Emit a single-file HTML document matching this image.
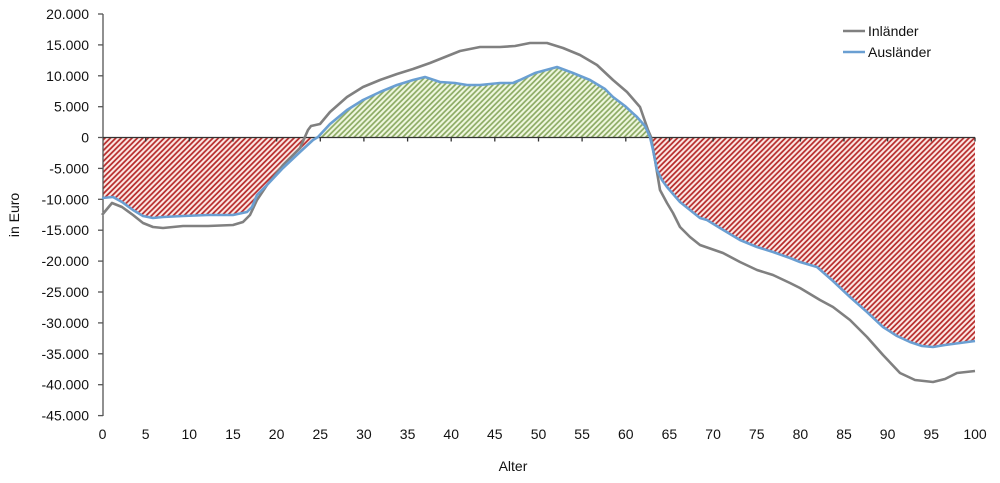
<!DOCTYPE html>
<html><head><meta charset="utf-8"><style>
html,body{margin:0;padding:0;background:#fff;}
svg{display:block;}
text{font-family:"Liberation Sans",Arial,sans-serif;fill:#111;}
</style></head><body>
<svg width="1000" height="483" viewBox="0 0 1000 483" xmlns="http://www.w3.org/2000/svg">
<defs>
<pattern id="red" patternUnits="userSpaceOnUse" width="5.4" height="5.4">
<rect width="5.4" height="5.4" fill="#fdeae6"/>
<path d="M-1,1 l2,-2 M0,5.4 l5.4,-5.4 M4.4,6.4 l2,-2" stroke="#b72c2c" stroke-width="1.8"/>
</pattern>
<pattern id="green" patternUnits="userSpaceOnUse" width="5.4" height="5.4">
<rect width="5.4" height="5.4" fill="#f0f8e0"/>
<path d="M-1,1 l2,-2 M0,5.4 l5.4,-5.4 M4.4,6.4 l2,-2" stroke="#8cab64" stroke-width="1.7"/>
</pattern>
<clipPath id="above"><rect x="0" y="0" width="1000" height="137.5"/></clipPath>
<clipPath id="below"><rect x="0" y="137.5" width="1000" height="400"/></clipPath>
</defs>

<!-- fills -->
<g>
<polygon clip-path="url(#below)" fill="url(#red)" points="103,137.5 103,198 113,197 122,202 133,210 143,216 153,218 163,217 183,216 208,215 233,215 247,212 252,207 257,195 267,185 283,168 300,152 313,140 318,137 330,124 347,110 363,100 380,92 397,85 413,80 425,77 440,82 455,83 467,85 480,85 500,83 513,83 520,80 535,73 557,67 573,73 590,80 605,89 613,97 625,106 637,117 645,126 650,137 653,150 657,170 662,180 667,187 680,202 700,218 707,220 720,228 740,240 757,247 773,252 790,258 800,262 817,267 833,281 850,297 867,312 883,327 897,336 910,342 922,346 933,347 945,345 960,343 975,341 975,137.5"/>
<polygon clip-path="url(#above)" fill="url(#green)" points="103,137.5 103,198 113,197 122,202 133,210 143,216 153,218 163,217 183,216 208,215 233,215 247,212 252,207 257,195 267,185 283,168 300,152 313,140 318,137 330,124 347,110 363,100 380,92 397,85 413,80 425,77 440,82 455,83 467,85 480,85 500,83 513,83 520,80 535,73 557,67 573,73 590,80 605,89 613,97 625,106 637,117 645,126 650,137 653,150 657,170 662,180 667,187 680,202 700,218 707,220 720,228 740,240 757,247 773,252 790,258 800,262 817,267 833,281 850,297 867,312 883,327 897,336 910,342 922,346 933,347 945,345 960,343 975,341 975,137.5"/>
</g>

<!-- y axis -->
<g stroke="#555" stroke-width="1.3">
<line x1="103" y1="14" x2="103" y2="416"/>
<line x1="98" y1="14" x2="103" y2="14"/>
<line x1="98" y1="44.9" x2="103" y2="44.9"/>
<line x1="98" y1="75.8" x2="103" y2="75.8"/>
<line x1="98" y1="106.7" x2="103" y2="106.7"/>
<line x1="98" y1="137.5" x2="103" y2="137.5"/>
<line x1="98" y1="168.4" x2="103" y2="168.4"/>
<line x1="98" y1="199.3" x2="103" y2="199.3"/>
<line x1="98" y1="230.2" x2="103" y2="230.2"/>
<line x1="98" y1="261.1" x2="103" y2="261.1"/>
<line x1="98" y1="292" x2="103" y2="292"/>
<line x1="98" y1="322.9" x2="103" y2="322.9"/>
<line x1="98" y1="353.8" x2="103" y2="353.8"/>
<line x1="98" y1="384.7" x2="103" y2="384.7"/>
<line x1="98" y1="415.6" x2="103" y2="415.6"/>
</g>
<!-- zero line + ticks -->
<g stroke="#333" stroke-width="1.3">
<line x1="103" y1="137.5" x2="975" y2="137.5"/>
<path d="M145.7,137.5v4 M189.3,137.5v4 M233,137.5v4 M276.6,137.5v4 M320.3,137.5v4 M363.9,137.5v4 M407.6,137.5v4 M451.2,137.5v4 M494.8,137.5v4 M538.5,137.5v4 M582.1,137.5v4 M625.8,137.5v4 M669.4,137.5v4 M713.1,137.5v4 M756.7,137.5v4 M800.4,137.5v4 M844,137.5v4 M887.6,137.5v4 M931.3,137.5v4 M975,137.5v4"/>
</g>

<!-- series -->
<polyline fill="none" stroke="#808080" stroke-width="2.6" stroke-linejoin="round" points="102,215 112,203 122,207 133,215 143,223 153,227 163,228 183,226 208,226 233,225 243,222 250,215 257,200 267,185 283,165 300,148 308,130 311,126 320,124 330,112 347,97 363,87 380,80 397,74 413,69 430,63 445,57 460,51 480,47 500,47 515,46 530,43 547,43 563,48 580,55 597,65 613,80 627,92 640,107 648,130 651,137 655,160 660,190 667,203 673,213 680,227 690,237 700,245 723,253 740,262 757,270 773,275 790,283 800,288 820,300 833,307 850,320 867,337 883,355 900,373 915,380 933,382 945,379 957,373 975,371"/>
<polyline fill="none" stroke="#6a9fd2" stroke-width="2.6" stroke-linejoin="round" points="102,198 113,197 122,202 133,210 143,216 153,218 163,217 183,216 208,215 233,215 247,212 252,207 257,195 267,185 283,168 300,152 313,140 318,137 330,124 347,110 363,100 380,92 397,85 413,80 425,77 440,82 455,83 467,85 480,85 500,83 513,83 520,80 535,73 557,67 573,73 590,80 605,89 613,97 625,106 637,117 645,126 650,137 653,150 657,170 662,180 667,187 680,202 700,218 707,220 720,228 740,240 757,247 773,252 790,258 800,262 817,267 833,281 850,297 867,312 883,327 897,336 910,342 922,346 933,347 945,345 960,343 975,341"/>

<!-- y labels -->
<g font-size="14" text-anchor="end">
<text x="89" y="19">20.000</text>
<text x="89" y="49.9">15.000</text>
<text x="89" y="80.8">10.000</text>
<text x="89" y="111.7">5.000</text>
<text x="89" y="142.5">0</text>
<text x="89" y="173.4">-5.000</text>
<text x="89" y="204.3">-10.000</text>
<text x="89" y="235.2">-15.000</text>
<text x="89" y="266.1">-20.000</text>
<text x="89" y="297">-25.000</text>
<text x="89" y="327.9">-30.000</text>
<text x="89" y="358.8">-35.000</text>
<text x="89" y="389.7">-40.000</text>
<text x="89" y="420.6">-45.000</text>
</g>
<!-- x labels -->
<g font-size="14" text-anchor="middle">
<text x="102.5" y="439">0</text>
<text x="145.7" y="439">5</text>
<text x="189.3" y="439">10</text>
<text x="233" y="439">15</text>
<text x="276.6" y="439">20</text>
<text x="320.3" y="439">25</text>
<text x="363.9" y="439">30</text>
<text x="407.6" y="439">35</text>
<text x="451.2" y="439">40</text>
<text x="494.8" y="439">45</text>
<text x="538.5" y="439">50</text>
<text x="582.1" y="439">55</text>
<text x="625.8" y="439">60</text>
<text x="669.4" y="439">65</text>
<text x="713.1" y="439">70</text>
<text x="756.7" y="439">75</text>
<text x="800.4" y="439">80</text>
<text x="844" y="439">85</text>
<text x="887.6" y="439">90</text>
<text x="931.3" y="439">95</text>
<text x="975" y="439">100</text>
</g>
<text x="513" y="471" font-size="14" text-anchor="middle">Alter</text>
<text transform="translate(19,215) rotate(-90)" font-size="14" text-anchor="middle">in Euro</text>

<!-- legend -->
<line x1="843" y1="31" x2="865" y2="31" stroke="#808080" stroke-width="2.6"/>
<line x1="843" y1="52" x2="865" y2="52" stroke="#6a9fd2" stroke-width="2.6"/>
<text x="868" y="36" font-size="14">Inländer</text>
<text x="868" y="57" font-size="14">Ausländer</text>
</svg>
</body></html>
